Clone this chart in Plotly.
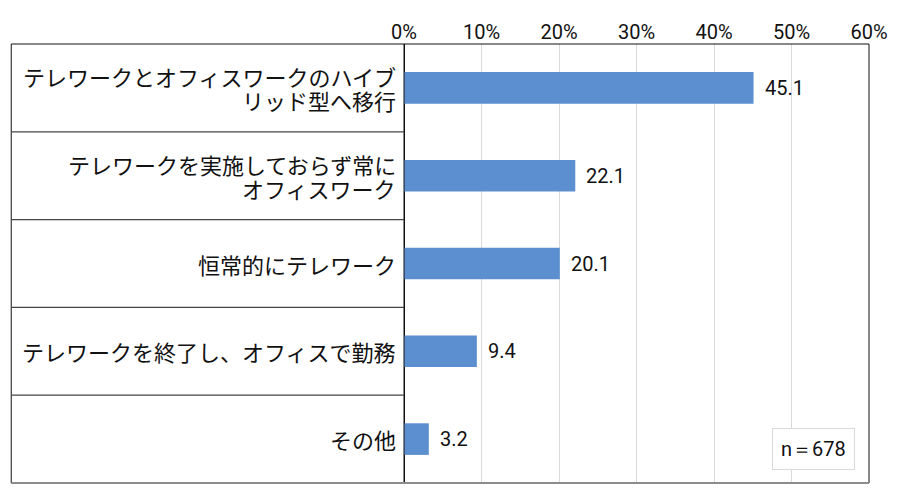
import plotly.graph_objects as go

categories = [
    ["テレワークとオフィスワークのハイブ", "リッド型へ移行"],
    ["テレワークを実施しておらず常に", "オフィスワーク"],
    ["恒常的にテレワーク"],
    ["テレワークを終了し、オフィスで勤務"],
    ["その他"],
]
values = [45.1, 22.1, 20.1, 9.4, 3.2]
tick_vals = [0, 10, 20, 30, 40, 50, 60]
tick_text = ["0%", "10%", "20%", "30%", "40%", "50%", "60%"]
n_label = "n＝678"

JP = "Noto Sans CJK JP"
NUM = "Roboto, sans-serif"
BAR = "#5B8FD0"

# the page has an 8px body margin, so the figure is drawn 8px smaller
W, H = 892, 495
L, R, T, B = 396, 26, 34, 20
plot_w = W - L - R
tab_w = 397 / plot_w
LINE_GAP = 24

y_pos = list(range(len(categories)))

fig = go.Figure()
fig.add_trace(go.Bar(
    x=values, y=y_pos, orientation="h", width=0.36,
    marker=dict(color=BAR, line=dict(width=0)),
    hoverinfo="skip",
))

ann = []
for i, (lines, v) in enumerate(zip(categories, values)):
    # category label in the left table, one annotation per line
    n = len(lines)
    for j, line in enumerate(lines):
        shift = ((n - 1) / 2 - j) * LINE_GAP
        ann.append(dict(x=0, xref="paper", y=i, yref="y", text=line, showarrow=False,
                        xanchor="right", yanchor="middle", xshift=-6, yshift=shift,
                        font=dict(family=JP, size=22, color="#111")))
    # value label
    ann.append(dict(x=v, xref="x", y=i, yref="y", text=f"{v:.1f}", showarrow=False,
                    xanchor="left", yanchor="middle", xshift=9,
                    font=dict(family=NUM, size=20, color="#111")))
ann.append(dict(x=1 - 14 / plot_w, xref="paper", y=13 / (H - T - B), yref="paper", text=n_label,
                showarrow=False, xanchor="right", yanchor="bottom", bordercolor="#d9d9d9",
                borderwidth=1, borderpad=8, bgcolor="white",
                font=dict(family=NUM, size=20, color="#111")))

shapes = []
# left label table outer border
shapes.append(dict(type="rect", xref="paper", yref="paper", x0=-tab_w, x1=0, y0=0, y1=1,
                   line=dict(color="#111", width=1)))
# row separators in the label table
for k in range(1, len(categories)):
    shapes.append(dict(type="line", xref="paper", yref="y", x0=-tab_w, x1=0,
                       y0=k - 0.5, y1=k - 0.5, line=dict(color="#444", width=1.2)))
# plot box top and right
shapes.append(dict(type="line", xref="paper", yref="paper", x0=0, x1=1, y0=1, y1=1,
                   line=dict(color="#111", width=1)))
shapes.append(dict(type="line", xref="paper", yref="paper", x0=1, x1=1, y0=0, y1=1,
                   line=dict(color="#111", width=1)))
# bottom line
shapes.append(dict(type="line", xref="paper", yref="paper", x0=-tab_w, x1=1, y0=0, y1=0,
                   line=dict(color="#8c8c8c", width=2)))

fig.update_layout(
    width=W, height=H,
    margin=dict(l=L, r=R, t=T, b=B),
    paper_bgcolor="white", plot_bgcolor="white",
    showlegend=False,
    annotations=ann, shapes=shapes,
    xaxis=dict(range=[0, 60], side="top", tickvals=tick_vals, ticktext=tick_text,
               showgrid=True, gridcolor="#d9d9d9", gridwidth=1, zeroline=True,
               zerolinecolor="#111", zerolinewidth=1, showline=False, ticks="",
               tickfont=dict(family=NUM, size=20, color="#111"), fixedrange=True),
    yaxis=dict(range=[len(categories) - 0.5, -0.5], showticklabels=False, showgrid=False,
               zeroline=False, showline=False, fixedrange=True),
)

fig.write_html("out.html")
